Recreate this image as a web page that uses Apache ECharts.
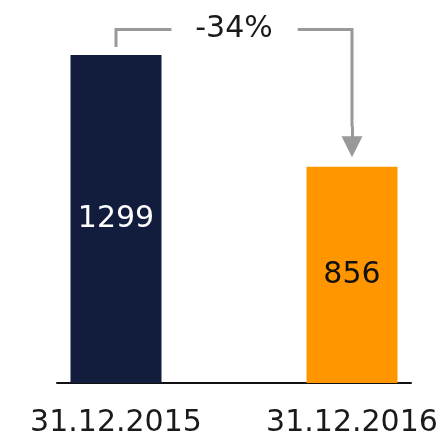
<!DOCTYPE html>
<html>
<head>
<meta charset="utf-8">
<script src="https://cdn.jsdelivr.net/npm/echarts@6/dist/echarts.min.js"></script>
<style>
  html, body { margin: 0; padding: 0; background: #fff; }
  #chart { width: 443px; height: 435px; }
</style>
</head>
<body>
<div id="chart"></div>
<script>
const categories = ['31.12.2015', '31.12.2016']
const values = [1299, 856]
const positions = [0, 1]

const change = Math.round((values[1] - values[0]) / values[0] * 100)
const bracketTop = 1400

const chart = echarts.init(document.getElementById('chart'))
const font = 'DejaVu Sans'
const bracketStyle = { color: '#999', width: 3, opacity: 1 }

const option = {
    backgroundColor: '#fff',
    animation: false,
    grid: { left: 57, right: 32, top: 29.5, bottom: 52, outerBoundsMode: 'none', containLabel: false },
    xAxis: {
        type: 'value',
        min: -0.25,
        max: 1.25,
        splitLine: { show: false },
        axisTick: { show: false },
        axisLine: { show: true, onZero: false, lineStyle: { color: '#111', width: 2 } },
        axisLabel: {
            customValues: positions,
            formatter: (v) => categories[Math.round(v)],
            fontSize: 30,
            fontFamily: font,
            color: '#1a1a1a',
            margin: 25
        }
    },
    yAxis: {
        type: 'value',
        min: 0,
        max: bracketTop,
        show: false
    },
    series: [
        {
            type: 'bar',
            barWidth: 91,
            z: 1,
            data: values.map((v, i) => ({
                value: [positions[i], v],
                itemStyle: { color: i === 0 ? '#121c3c' : '#ff9600' },
                label: {
                    show: true,
                    position: 'inside',
                    formatter: String(v),
                    fontSize: 30,
                    fontFamily: font,
                    color: i === 0 ? '#fff' : '#111'
                }
            }))
        },
        {
            // bracket lines
            type: 'lines',
            coordinateSystem: 'cartesian2d',
            polyline: true,
            lineStyle: bracketStyle,
            z: 3,
            data: [
                { coords: [[positions[0], values[0] + 32], [positions[0], bracketTop], [0.235, bracketTop]] },
                { coords: [[0.77, bracketTop], [positions[1], bracketTop], [positions[1], values[1] + 160]] }
            ]
        },
        {
            // arrow head part
            type: 'lines',
            coordinateSystem: 'cartesian2d',
            symbol: ['none', 'triangle'],
            symbolSize: 21,
            lineStyle: bracketStyle,
            z: 3,
            data: [{ coords: [[positions[1], values[1] + 161], [positions[1], values[1] + 80]] }]
        },
        {
            type: 'scatter',
            symbolSize: 0,
            z: 4,
            itemStyle: { opacity: 1 },
            label: {
                show: true,
                position: 'inside',
                formatter: change + '%',
                fontSize: 30,
                fontFamily: font,
                color: '#1a1a1a'
            },
            data: [[0.5, bracketTop]]
        }
    ]
}

chart.setOption(option)
</script>
</body>
</html>
